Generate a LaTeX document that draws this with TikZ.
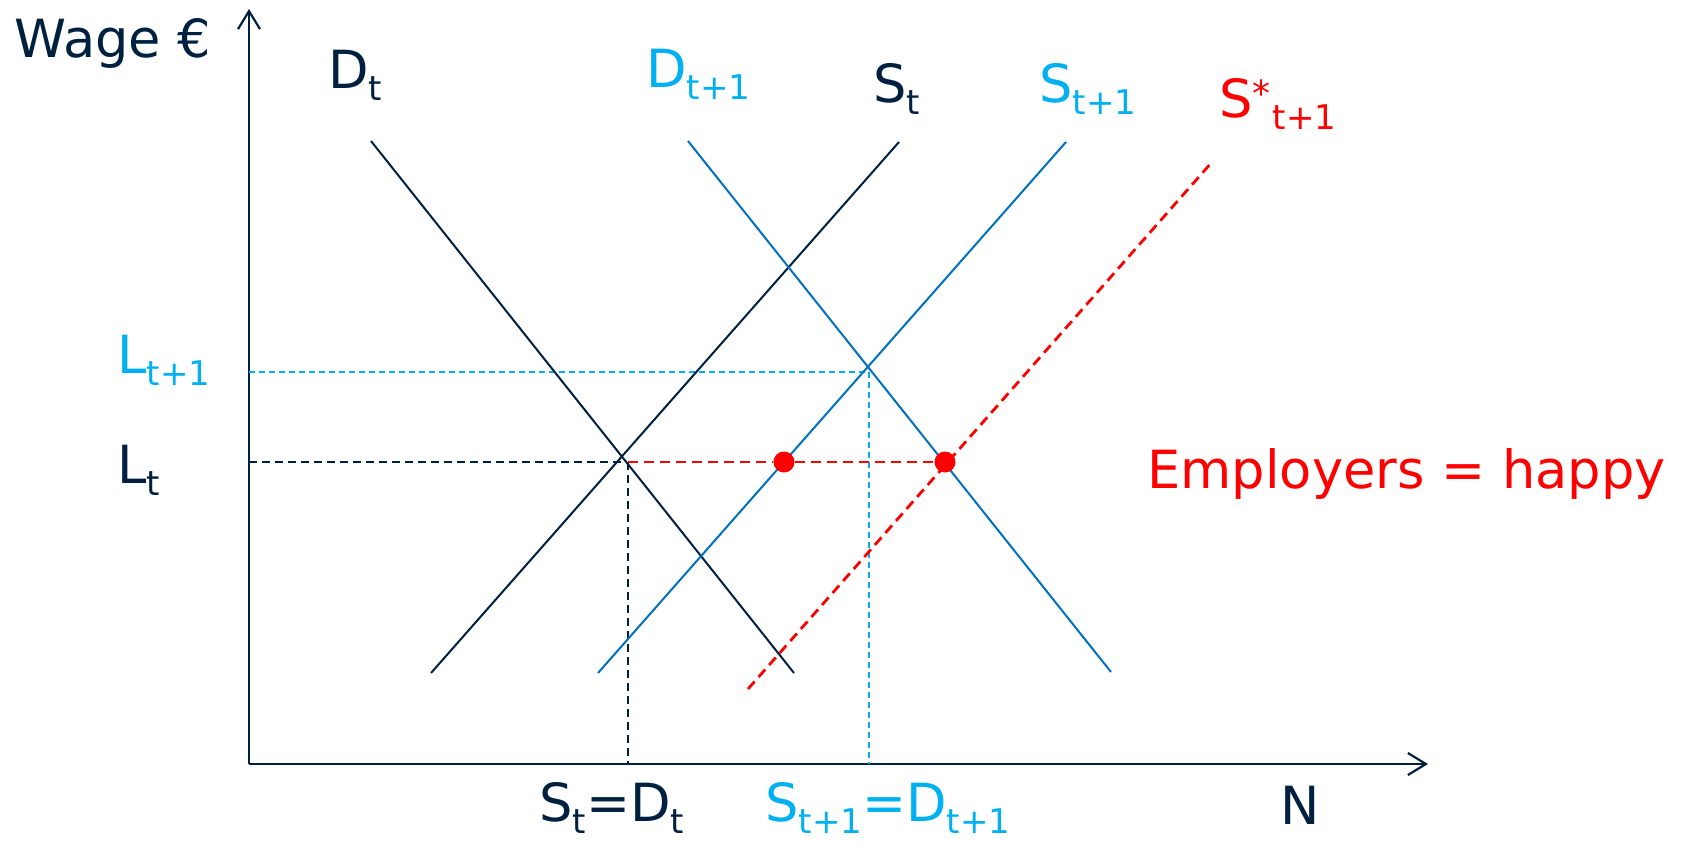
\documentclass[tikz,border=0pt]{standalone}
\usepackage{fontspec}
\setmainfont{DejaVu Sans}
\usetikzlibrary{arrows.meta}
\definecolor{navy}{RGB}{0,32,64}
\definecolor{lineblue}{RGB}{0,112,192}
\definecolor{lightblue}{RGB}{0,176,240}
\definecolor{redc}{RGB}{255,0,0}
\newcommand{\lsub}[1]{\raisebox{-6pt}{\fontsize{17}{17}\selectfont #1}}
\newcommand{\lstar}{\raisebox{5.5pt}{\fontsize{18}{18}\selectfont *\kern1pt}}
\begin{document}
\begin{tikzpicture}[x=0.5pt,y=-0.5pt,
  lbl/.style={anchor=base west,inner sep=0pt,font=\fontsize{26.3}{30}\selectfont},
  axis/.style={draw=navy,line width=1.25pt,-{Straight Barb[length=9pt,width=11pt,line width=1.1pt]}},
  curvedark/.style={draw=navy,line width=1pt},
  curveblue/.style={draw=lineblue,line width=1pt},
  redshift/.style={draw=redc,line width=1.4pt,dash pattern=on 5pt off 3pt},
  guidedark/.style={draw=navy,line width=1pt,dash pattern=on 4pt off 2.5pt},
  guideblue/.style={draw=lightblue,line width=0.8pt,dash pattern=on 3pt off 2pt},
  guidered/.style={draw=redc,line width=1.2pt,dash pattern=on 5pt off 3pt},
  dot/.style={circle,fill=redc,inner sep=0pt,minimum size=10.5pt}]
\useasboundingbox (0,0) rectangle (1686,842);
% axes
\coordinate (O) at (249,764);
\coordinate (ytop) at (249,9);
\coordinate (xend) at (1428,764);
\draw[axis] (O) -- (ytop);
\draw[axis] (O) -- (xend);
% curve end points
\coordinate (Dt1) at (371,141);  \coordinate (Dt2) at (794,673);
\coordinate (St1) at (431,673);  \coordinate (St2) at (899,142);
\coordinate (Dn1) at (688,141);  \coordinate (Dn2) at (1111,672);
\coordinate (Sn1) at (598,673);  \coordinate (Sn2) at (1066,142);
\coordinate (Ss1) at (748,689);  \coordinate (Ss2) at (1212,162);
% guide points
\coordinate (Lty) at (249,462);
\coordinate (Eq) at (621,462);
\coordinate (Eqv) at (628,462);
\coordinate (Eqb) at (628,764);
\coordinate (Ln1y) at (249,372);
\coordinate (En) at (869,372);
\coordinate (Enb) at (869,764);
% guides
\draw[guideblue] (Ln1y) -- (En);
\draw[guideblue] (En) -- (Enb);
\draw[guidedark] (Lty) -- (Eq);
\draw[guidedark] (Eqv) -- (Eqb);
% curves
\draw[curvedark] (Dt1) -- (Dt2);
\draw[curvedark] (St1) -- (St2);
\draw[curveblue] (Dn1) -- (Dn2);
\draw[curveblue] (Sn1) -- (Sn2);
\draw[redshift] (Ss1) -- (Ss2);
% red dots
\node[dot] (p1) at (784,462) {};
\node[dot] (p2) at (945,462) {};
\draw[guidered] (Eqv) -- (p1);
\draw[guidered] (p1) -- (p2);
% labels
\node[lbl,text=navy] (wage) at (14,57) {Wage €};
\node[lbl,text=navy] (labDt) at (328,88) {D\lsub{t}};
\node[lbl,text=lightblue] (labDn) at (646,87) {D\lsub{t+1}};
\node[lbl,text=navy] (labSt) at (873,102) {S\lsub{t}};
\node[lbl,text=lightblue] (labSn) at (1039,102) {S\lsub{t+1}};
\node[lbl,text=redc] (labSs) at (1219,117) {S\lstar\lsub{t+1}};
\node[lbl,text=lightblue] (labLn) at (117,373) {L\lsub{t+1}};
\node[lbl,text=navy] (labLt) at (117,483) {L\lsub{t}};
\node[lbl,text=navy] (labEq) at (539,821) {S\lsub{t}=D\lsub{t}};
\node[lbl,text=lightblue] (labEn) at (765,821) {S\lsub{t+1}=D\lsub{t+1}};
\node[lbl,text=navy] (labN) at (1280,824) {N};
\node[lbl,text=redc] (happy) at (1147,488) {Employers = happy};
\end{tikzpicture}
\end{document}
